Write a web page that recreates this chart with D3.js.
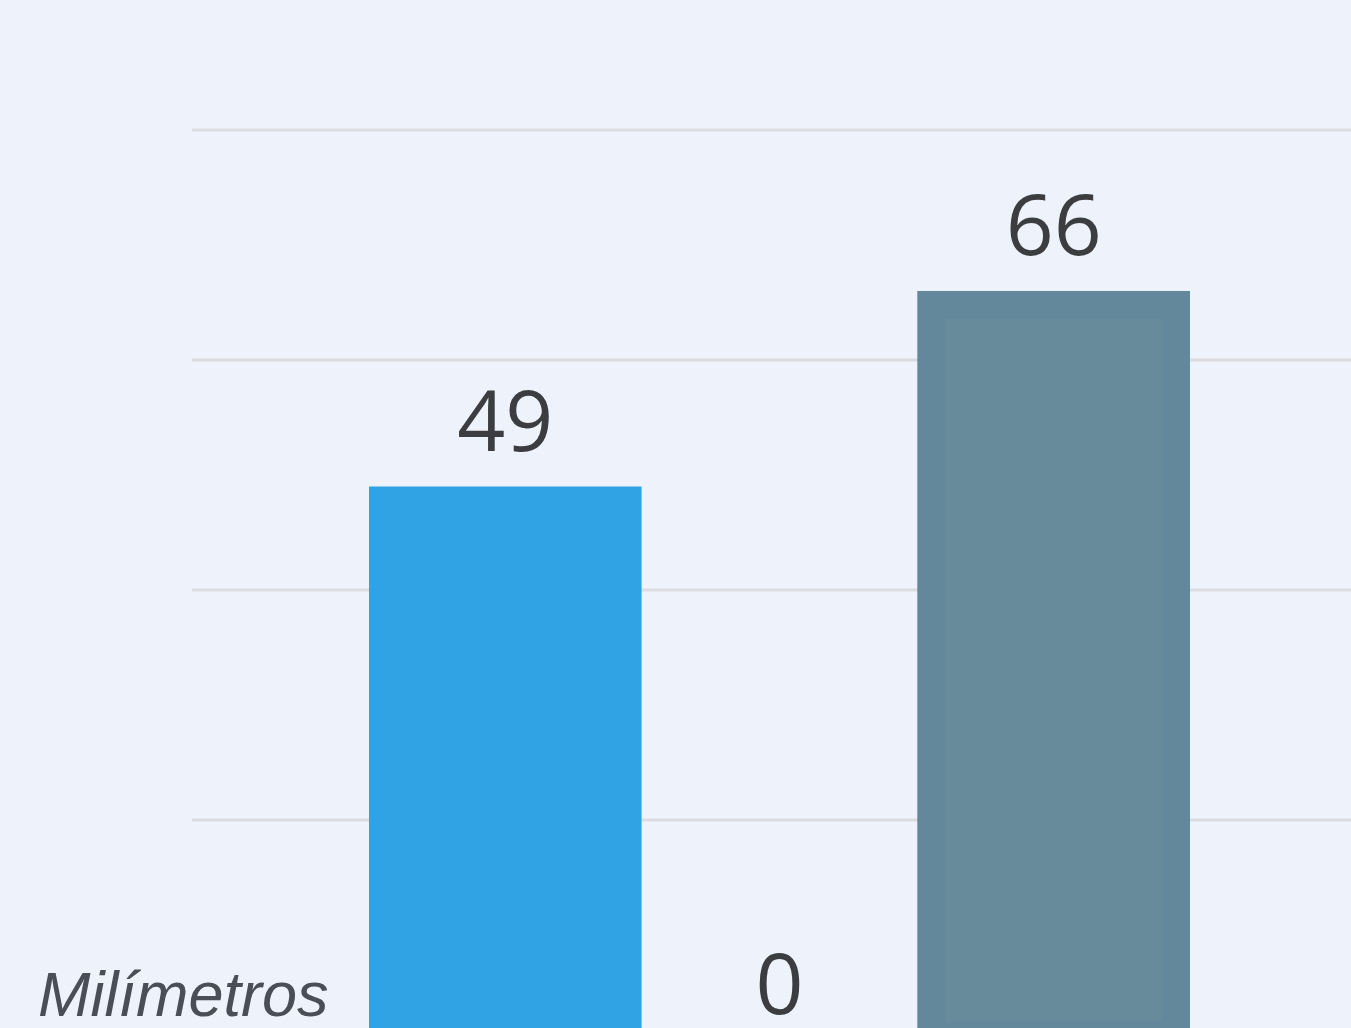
<!DOCTYPE html>
<html>
<head>
<meta charset="utf-8">
<script src="https://cdn.jsdelivr.net/npm/d3@7"></script>
<style>
  html, body { margin: 0; padding: 0; background: #eef2fa; overflow: hidden; }
  svg { display: block; }
</style>
</head>
<body>
<svg id="chart" width="1351" height="1028"></svg>
<script>
// Data
const categories = ["Serie A", "Serie B", "Serie C"];
const values = [49, 0, 66];
const barColors = ["#2fa3e4", "#2fa3e4", "#678b9b"];
const yTicks = [20, 40, 60, 80];
const unitLabel = "Milímetros";

const W = 1351, H = 1028;
const svg = d3.select("#chart");

svg.append("rect").attr("width", W).attr("height", H).attr("fill", "#eef2fa");

const y = d3.scaleLinear().domain([0, 80]).range([1050, 130]);
const x = d3.scaleBand().domain(categories).range([369, 1190]).paddingInner(0.006).paddingOuter(0);

// Gridlines
svg.append("g").selectAll("line").data(yTicks).join("line")
  .attr("x1", 192).attr("x2", W)
  .attr("y1", d => y(d)).attr("y2", d => y(d))
  .attr("stroke", "#dadcdf").attr("stroke-width", 3);

// Bars
const bars = svg.append("g");
categories.forEach((c, i) => {
  if (values[i] <= 0) return;
  const bx = x(c), bw = x.bandwidth(), by = y(values[i]), bh = y(0) - y(values[i]);
  bars.append("rect")
    .attr("x", bx).attr("y", by).attr("width", bw).attr("height", bh)
    .attr("fill", barColors[i]);
  if (i === 2) {
    bars.append("rect")
      .attr("x", bx + 14).attr("y", by + 14).attr("width", bw - 28).attr("height", bh - 28)
      .attr("fill", "none").attr("stroke", "#62869a").attr("stroke-width", 28).attr("stroke-opacity", 0.55);
  }
});

// Value labels
svg.append("g").selectAll("text").data(categories).join("text")
  .attr("x", d => x(d) + x.bandwidth() / 2)
  .attr("y", (d, i) => y(values[i]) - 36)
  .attr("text-anchor", "middle")
  .attr("font-family", "'Open Sans', sans-serif")
  .attr("font-size", 84)
  .attr("fill", "#3b3d40")
  .text((d, i) => values[i]);

// Unit label
svg.append("text")
  .attr("x", 38).attr("y", 1016)
  .attr("font-family", "'Liberation Sans', Arial, sans-serif")
  .attr("font-style", "italic")
  .attr("font-size", 63)
  .attr("fill", "#4a4f57")
  .text(unitLabel);
</script>
</body>
</html>
